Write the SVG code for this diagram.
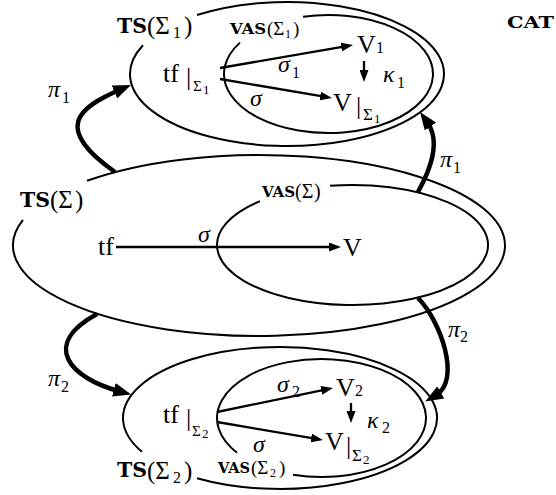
<svg xmlns="http://www.w3.org/2000/svg" width="556" height="495" viewBox="0 0 556 495">
<style>
.e{fill:none;stroke:#000;stroke-width:2}
.a{fill:none;stroke:#000;stroke-width:2.3;marker-end:url(#ah)}
.p{fill:none;stroke:#000;stroke-width:4.5;marker-end:url(#ph)}
text{font-family:"Liberation Serif",serif;fill:#000}
.m{font-size:26px}
.i{font-style:italic;font-size:24px}
.u{font-style:normal;font-size:16px}
.b{font-family:"DejaVu Serif","Liberation Mono",serif;font-weight:bold}
</style>
<defs>
<marker id="ah" markerUnits="userSpaceOnUse" markerWidth="12" markerHeight="9" refX="4" refY="4.5" orient="auto" viewBox="0 0 12 9"><path d="M0,0L12,4.5L0,9z"/></marker>
<marker id="ph" markerUnits="userSpaceOnUse" markerWidth="18" markerHeight="14" refX="6" refY="7" orient="auto" viewBox="0 0 18 14"><path d="M0,0L18,7L0,14z"/></marker>
</defs>

<g id="cat"><text class="b" x="507" y="28" font-size="17" textLength="47" lengthAdjust="spacingAndGlyphs">CAT</text></g>

<g id="ts-sigma1">
<path class="e" d="M196.95,15.02A157,72 0 1 1 143,45.3"/>
<text class="b" x="117" y="33" font-size="20" textLength="30" lengthAdjust="spacingAndGlyphs">TS</text>
<text x="147" y="34" font-size="25">(Σ<tspan x="173" dy="4" font-size="16">1</tspan><tspan x="184" dy="-4">)</tspan></text>
</g>
<g id="vas-sigma1">
<path class="e" d="M303,16.78A104.5,59 0 1 1 240,42.62"/>
<text class="b" x="230" y="34" font-size="15" textLength="36" lengthAdjust="spacingAndGlyphs">VAS</text>
<text x="267" y="35" font-size="19">(Σ<tspan x="285" dy="3" font-size="12">1</tspan><tspan x="293" dy="-3">)</tspan></text>
</g>
<g id="ts-sigma">
<path class="e" d="M87,180.8A246,90.5 0 1 1 23,219.95"/>
<text class="b" x="20" y="207" font-size="20" textLength="30" lengthAdjust="spacingAndGlyphs">TS</text>
<text x="50" y="208" font-size="25">(Σ<tspan x="75">)</tspan></text>
</g>
<g id="vas-sigma">
<path class="e" d="M330,185.83A135.5,60 0 1 1 260,201.16"/>
<text class="b" x="262" y="197" font-size="15" textLength="33" lengthAdjust="spacingAndGlyphs">VAS</text>
<text x="295" y="198" font-size="20">(Σ<tspan x="314">)</tspan></text>
</g>
<g id="ts-sigma2">
<path class="e" d="M197,478.27A157,71 0 1 0 142,451.85"/>
<text class="b" x="117" y="477" font-size="20" textLength="30" lengthAdjust="spacingAndGlyphs">TS</text>
<text x="147" y="479" font-size="25">(Σ<tspan x="173" dy="4" font-size="16">2</tspan><tspan x="184" dy="-4">)</tspan></text>
</g>
<g id="vas-sigma2">
<path class="e" d="M293,474.76A104.5,59 0 1 0 237,452.7"/>
<text class="b" x="218" y="473" font-size="15" textLength="32" lengthAdjust="spacingAndGlyphs">VAS</text>
<text x="251" y="474" font-size="19">(Σ<tspan x="270" dy="3" font-size="12">2</tspan><tspan x="279" dy="-3">)</tspan></text>
</g>

<g id="tf1"><text class="m" x="163" y="82">tf<tspan x="186" dy="3">|</tspan><tspan x="193" dy="6" font-size="15">Σ</tspan><tspan x="203" dy="3" font-size="13">1</tspan></text></g>
<g id="v1"><text class="m" x="357" y="53">V<tspan x="376" font-size="16">1</tspan></text></g>
<g id="vsig1"><text class="m" x="333" y="111">V<tspan x="356" dy="3">|</tspan><tspan x="363" dy="6" font-size="17">Σ</tspan><tspan x="374" dy="3" font-size="13">1</tspan></text></g>
<g id="tf"><text class="m" x="98" y="255">tf</text></g>
<g id="v"><text class="m" x="343" y="256">V</text></g>
<g id="tf2"><text class="m" x="163" y="423">tf<tspan x="186" dy="3">|</tspan><tspan x="192" dy="10" font-size="15">Σ</tspan><tspan x="202" dy="2" font-size="13">2</tspan></text></g>
<g id="v2"><text class="m" x="336" y="396">V<tspan x="355" font-size="16">2</tspan></text></g>
<g id="vsig2"><text class="m" x="325" y="450">V<tspan x="346" dy="4">|</tspan><tspan x="352" dy="7" font-size="17">Σ</tspan><tspan x="363" dy="3" font-size="13">2</tspan></text></g>

<g id="connectors">
<path class="a" d="M220,68L345.1,46.4"/>
<path class="a" d="M220,79L324.1,96.7"/>
<path class="a" d="M364,61L364,74"/>
<path class="a" d="M116,247L333,247"/>
<path class="a" d="M217,412L325.2,389.6"/>
<path class="a" d="M217,422L315.1,438.7"/>
<path class="a" d="M351,403L351,415"/>
<path class="p" d="M115,172C52,128 78.6,107.3 120,89.7"/>
<path class="p" d="M418,192C430,170 441.5,142 427,121.7"/>
<path class="p" d="M97,314C40,345 70,378 119.6,391.4"/>
<path class="p" d="M418,298C440,320 462,380 435.6,395.4"/>
<text class="i" x="278" y="72">σ<tspan class="u" x="292" dy="6">1</tspan></text>
<text class="i" x="250" y="106">σ</text>
<text class="i" x="383" y="82">κ<tspan class="u" x="397" dy="6">1</tspan></text>
<text class="i" x="198" y="242">σ</text>
<text class="i" x="277" y="392">σ<tspan class="u" x="292" dy="5">2</tspan></text>
<text class="i" x="253" y="452">σ</text>
<text class="i" x="367" y="428">κ<tspan class="u" x="382" dy="5">2</tspan></text>
<text class="i" x="48" y="97">π<tspan class="u" x="62" dy="6">1</tspan></text>
<text class="i" x="440" y="167">π<tspan class="u" x="453" dy="6">1</tspan></text>
<text class="i" x="48" y="386">π<tspan class="u" x="61" dy="6">2</tspan></text>
<text class="i" x="448" y="337">π<tspan class="u" x="460" dy="5">2</tspan></text>
</g>
</svg>
